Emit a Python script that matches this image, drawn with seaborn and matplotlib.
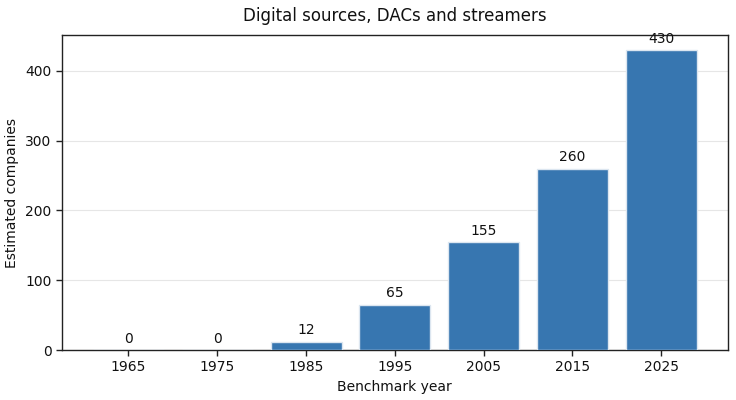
import matplotlib
matplotlib.use("Agg")
import matplotlib.pyplot as plt
import seaborn as sns
import pandas as pd

years = ["1965", "1975", "1985", "1995", "2005", "2015", "2025"]
companies = [0, 0, 12, 65, 155, 260, 430]

sns.set_style("white")
plt.rcParams['font.family'] = ['DejaVu Sans']
plt.rcParams['text.color'] = '#111111'
plt.rcParams['axes.labelcolor'] = '#111111'
plt.rcParams['xtick.color'] = '#111111'
plt.rcParams['ytick.color'] = '#111111'

df = pd.DataFrame({"year": years, "companies": companies})

fig = plt.figure(figsize=(7.36, 4.0), dpi=100)
ax = fig.add_axes([0.084, 0.125, 0.905, 0.7875])
sns.barplot(data=df, x="year", y="companies", color="#3776b0", saturation=1,
            width=0.8, edgecolor="#dce6f0", linewidth=1, ax=ax, zorder=3)

for i, v in enumerate(companies):
    ax.text(i, v + 6, f"{v}", ha="center", va="bottom", fontsize=10, color="#111111")

ax.set_ylim(0, 451.5)
ax.set_xlim(-0.75, 6.75)
ax.set_yticks([0, 100, 200, 300, 400])
ax.yaxis.grid(True, color="#e6e6e6", linewidth=0.8, zorder=0)
ax.set_axisbelow(True)
for s in ax.spines.values():
    s.set_color("#222222")
    s.set_linewidth(1.0)
ax.tick_params(axis="both", which="both", length=4, width=1, color="#222222", labelsize=10, bottom=True, left=True)
ax.set_xlabel("Benchmark year", fontsize=10)
ax.set_ylabel("Estimated companies", fontsize=10)
ax.set_title("Digital sources, DACs and streamers", fontsize=12, pad=10)

fig.savefig("out.png", dpi=100)
